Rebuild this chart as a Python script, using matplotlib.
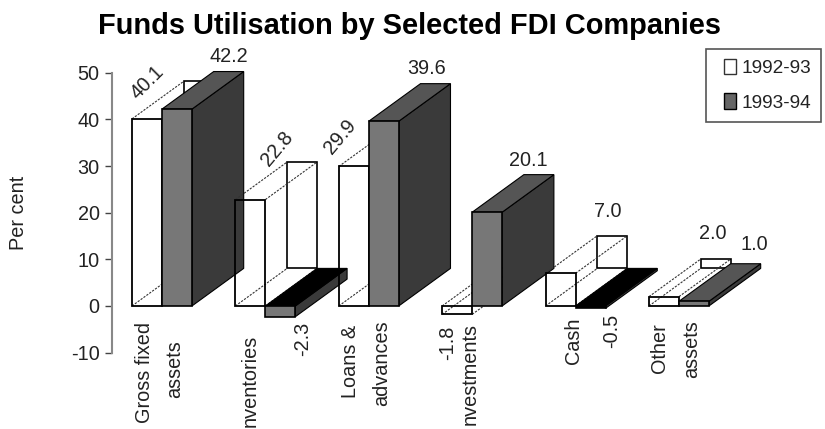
import matplotlib
matplotlib.use("Agg")
import matplotlib.pyplot as plt
from matplotlib.patches import Patch, Polygon, Rectangle

values_9293 = [40.1, 22.8, 29.9, -1.8, 7.0, 2.0]
values_9394 = [42.2, -2.3, 39.6, 20.1, -0.5, 1.0]
series_names = ["1992-93", "1993-94"]
y_ticks = [-10, 0, 10, 20, 30, 40, 50]

W, H = 825, 429
BAR_W = 0.29
DEPTH_X = 0.5
DEPTH_Y = 8.05
TEXT = "#222222"

# label centres in image pixels: x, y, rotation
labels_9293 = [(147, 82, 45), (277, 149, 50), (340, 137, 50),
               (448, 343, 90), (608, 212, 0), (713, 233, 0)]
labels_9394 = [(229, 56, 0), (303, 339, 90), (427, 68, 0),
               (528, 160, 0), (612, 331, 90), (754, 245, 0)]
# category text pieces as they show in the picture: text, x, top y
cat_pieces = [("Gross fixed", 145, 322), ("assets", 175, 340),
              ("nventories", 250, 335),
              ("Loans &", 350, 325), ("advances", 382, 320),
              ("nvestments", 470, 323),
              ("Cash", 573, 318),
              ("Other", 660, 323), ("assets", 692, 320)]


def draw_white(ax, x0, v, z):
    x1 = x0 + BAR_W
    lo, hi = min(v, 0), max(v, 0)
    ax.add_patch(Rectangle((x0 + DEPTH_X, lo + DEPTH_Y), BAR_W, hi - lo,
                           fill=False, ec="black", lw=1.2, clip_on=False, zorder=z))
    for x, y in [(x0, hi), (x1, hi), (x0, lo), (x1, lo)]:
        ax.plot([x, x + DEPTH_X], [y, y + DEPTH_Y], color="#333333", lw=0.8,
                ls=(0, (2, 1.2)), clip_on=False, zorder=z)
    ax.add_patch(Rectangle((x0, lo), BAR_W, hi - lo,
                           fill=False, ec="black", lw=1.3, clip_on=False, zorder=z))


def draw_solid(ax, x0, v, z):
    x1 = x0 + BAR_W
    lo, hi = min(v, 0), max(v, 0)
    top_col = "#555555" if v > 0 else "black"
    front_col = "#777777" if abs(v) >= 1 else "black"
    ax.add_patch(Polygon([(x1, lo), (x1, hi), (x1 + DEPTH_X, hi + DEPTH_Y),
                          (x1 + DEPTH_X, lo + DEPTH_Y)],
                         fc="#3a3a3a", ec="black", lw=0.8, clip_on=False, zorder=z))
    ax.add_patch(Polygon([(x0, hi), (x1, hi), (x1 + DEPTH_X, hi + DEPTH_Y),
                          (x0 + DEPTH_X, hi + DEPTH_Y)],
                         fc=top_col, ec="black", lw=0.8, clip_on=False, zorder=z))
    ax.add_patch(Rectangle((x0, lo), BAR_W, hi - lo, fc=front_col, ec="black",
                           lw=1.2, clip_on=False, zorder=z))


def put(fig, x, y, s, **kw):
    fig.text(x / W, 1 - y / H, s, color=TEXT, fontsize=14.3, **kw)


def main():
    plt.rcParams["font.family"] = ["Liberation Sans", "DejaVu Sans"]
    plt.rcParams["axes.unicode_minus"] = False
    fig = plt.figure(figsize=(W / 100, H / 100), dpi=100)
    ax = fig.add_axes([112 / W, 1 - 352.6 / H, (W - 112) / W, (352.6 - 72.7) / H])
    ax.set_xlim((112 - 162) / 103.4, (W - 162) / 103.4)
    ax.set_ylim(-10, 50)

    for i in range(len(values_9293)):
        draw_white(ax, i - BAR_W, values_9293[i], 3 + 2 * i)
        draw_solid(ax, i, values_9394[i], 4 + 2 * i)

    ax.set_yticks(y_ticks)
    ax.set_xticks([])
    ax.tick_params(axis="y", length=5, width=1, color="#444444", pad=4,
                   labelsize=14.3, labelcolor=TEXT)
    for side in ["top", "right", "bottom"]:
        ax.spines[side].set_visible(False)
    ax.spines["left"].set_color("#888888")
    ax.spines["left"].set_linewidth(1.5)

    for vals, labs in [(values_9293, labels_9293), (values_9394, labels_9394)]:
        for v, (x, y, rot) in zip(vals, labs):
            put(fig, x, y, f"{v:.1f}", rotation=rot, ha="center", va="center",
                rotation_mode="anchor")
    for s, x, y in cat_pieces:
        put(fig, x, y, s, rotation=90, ha="center", va="top")

    put(fig, 19, 213, "Per cent", rotation=90, ha="center", va="center")
    fig.text(410 / W, 1 - 26 / H, "Funds Utilisation by Selected FDI Companies",
             fontsize=20.9, fontweight="bold", color="black", ha="center", va="center")

    handles = [Patch(fc="white", ec="#333333", label=series_names[0]),
               Patch(fc="#666666", ec="black", label=series_names[1])]
    leg = fig.legend(handles=handles, loc="upper left",
                     bbox_to_anchor=(705.7 / W, 1 - 49 / H), borderaxespad=0,
                     fontsize=13.7, frameon=True, fancybox=False, framealpha=1,
                     edgecolor="#555555", handlelength=0.65, handleheight=0.85,
                     handletextpad=0.71, labelspacing=0.85, borderpad=0.53,
                     labelcolor=TEXT)
    leg.get_frame().set_linewidth(1.2)
    for h in leg.legend_handles:
        h.set_x(h.get_x() + 6)

    fig.savefig("out.png", dpi=100)


if __name__ == "__main__":
    main()
